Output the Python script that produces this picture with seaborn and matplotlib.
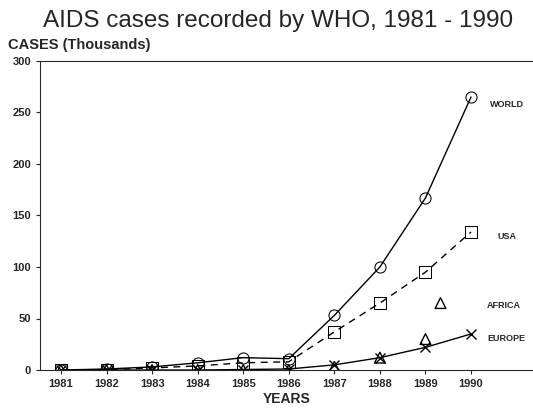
import numpy as np
import pandas as pd
import seaborn as sns
import matplotlib.pyplot as plt

years = [1981, 1982, 1983, 1984, 1985, 1986, 1987, 1988, 1989, 1990]
world = [0, 1, 3, 7, 12, 11, 53, 100, 167, 265]
usa = [0, 0.5, 2, 4, 7, 8, 37, 65, 95, 134]
africa = [0, 0, 0, 0, 0, 0, 3, 12, 30, 65]
europe = [0, 0, 0, 0, 0.5, 1, 5, 12, 22, 35]
series_names = ["WORLD", "USA", "AFRICA", "EUROPE"]

df = pd.DataFrame({"year": years, "WORLD": world, "USA": usa,
                   "AFRICA": africa, "EUROPE": europe})

sns.set_style("ticks")
plt.rcParams['font.family'] = ['Liberation Sans', 'DejaVu Sans']

fig = plt.figure(figsize=(5.33, 4.2), dpi=100)
ax = fig.add_axes([0.075, 0.119, 0.925, 0.736])

kw = dict(color="black", markerfacecolor="none", markeredgecolor="black",
          markersize=8, linewidth=1, ax=ax)
sns.lineplot(data=df, x="year", y="WORLD", marker="o", **kw)
sns.lineplot(data=df, x="year", y="USA", marker="s", **kw)
ax.lines[-1].set_linestyle((0, (5, 4)))
sns.lineplot(data=df, x="year", y="EUROPE", marker="x", markeredgewidth=1,
             markeredgecolor="black", color="black", linewidth=1,
             markersize=7, ax=ax)
# Africa: markers only, last point drawn as a key next to its label
afr = df.iloc[:-1]
sns.scatterplot(data=afr, x="year", y="AFRICA", marker="^", s=60,
                facecolors="none", edgecolors="black", linewidths=1, ax=ax)
ax.scatter([df["year"].iloc[-1] - 0.67], [df["AFRICA"].iloc[-1]], marker="^",
           s=60, facecolors="none", edgecolors="black", linewidths=1)

label_pos = {"WORLD": (1990.42, 258), "USA": (1990.58, 130),
             "AFRICA": (1990.35, 63), "EUROPE": (1990.35, 31)}
for name in series_names:
    x, y = label_pos[name]
    ax.text(x, y, name, fontsize=6.5, fontweight="bold", va="center", ha="left")

ax.set_xlim(1980.54, 1991.36)
ax.set_ylim(0, 300)
ax.set_xticks(years)
ax.set_yticks(range(0, 301, 50))
ax.tick_params(labelsize=8, length=3, width=0.8)
for lab in ax.get_xticklabels() + ax.get_yticklabels():
    lab.set_fontweight("bold")
ax.spines["right"].set_visible(False)
for s in ["left", "bottom", "top"]:
    ax.spines[s].set_linewidth(0.8)
ax.set_xlabel("YEARS", fontsize=10, fontweight="bold", labelpad=2)
ax.set_ylabel("")
fig.text(0.015, 0.877, "CASES (Thousands)", fontsize=10.5, fontweight="bold",
         ha="left", va="bottom")
fig.text(0.522, 0.935, "AIDS cases recorded by WHO, 1981 - 1990",
         fontsize=17.5, ha="center", va="baseline")

plt.savefig("out.png", dpi=100)
